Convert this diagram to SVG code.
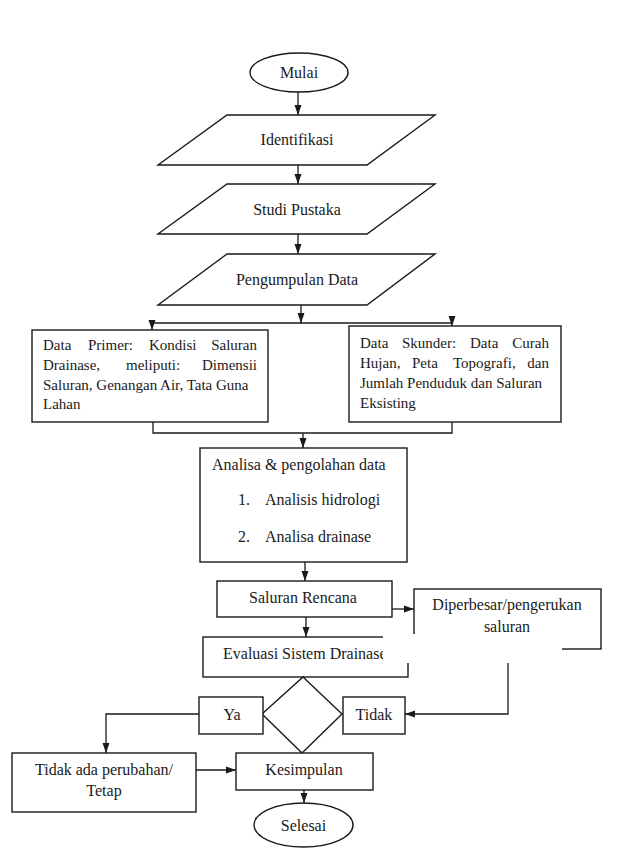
<svg xmlns="http://www.w3.org/2000/svg" width="620" height="855" viewBox="0 0 620 855">
<style>
.s{fill:none;stroke:#1a1a1a;stroke-width:1.4}
.b{fill:#fff;stroke:#1a1a1a;stroke-width:1.4}
.c{stroke:#1a1a1a;stroke-width:1.3;fill:none}
text{font-family:"Liberation Serif","Times New Roman",serif;font-size:16px;fill:#1a1a1a}
.m{text-anchor:middle}
.e{text-anchor:end}
.t{font-size:15px}
</style>
<defs>
<marker id="a" markerUnits="userSpaceOnUse" markerWidth="10" markerHeight="10" viewBox="0 0 10 10" refX="10" refY="5" orient="auto">
<path d="M0,1.5 L10,5 L0,8.5 Z" fill="#1a1a1a"/>
</marker>
</defs>
<rect width="620" height="855" fill="#fff"/>
<g id="connectors">
<line class="c" x1="298" y1="92" x2="298" y2="115" marker-end="url(#a)"/>
<line class="c" x1="298" y1="165" x2="298" y2="184" marker-end="url(#a)"/>
<line class="c" x1="298" y1="234" x2="298" y2="254" marker-end="url(#a)"/>
<line class="c" x1="301" y1="305" x2="301" y2="323" marker-end="url(#a)"/>
<line class="c" x1="152" y1="323" x2="452" y2="323"/>
<line class="c" x1="152" y1="323" x2="152" y2="330" marker-end="url(#a)"/>
<line class="c" x1="452" y1="323" x2="452" y2="326" marker-end="url(#a)"/>
<polyline class="c" points="153,422 153,433 452,433 452,422"/>
<line class="c" x1="303" y1="433" x2="303" y2="448" marker-end="url(#a)"/>
<line class="c" x1="305" y1="562" x2="305" y2="581" marker-end="url(#a)"/>
<line class="c" x1="392" y1="609" x2="414" y2="609" marker-end="url(#a)"/>
<line class="c" x1="306" y1="617" x2="306" y2="637" marker-end="url(#a)"/>
<polyline class="c" points="508,663 508,714 405,714" marker-end="url(#a)"/>
<polyline class="c" points="199,714 106,714 106,753" marker-end="url(#a)"/>
<line class="c" x1="196" y1="770" x2="236" y2="770" marker-end="url(#a)"/>
<line class="c" x1="304" y1="790" x2="304" y2="803" marker-end="url(#a)"/>
</g>
<g id="mulai">
<ellipse class="b" cx="299" cy="72.5" rx="49" ry="19.5"/>
<text class="m" x="299" y="78">Mulai</text>
</g>
<g id="identifikasi">
<polygon class="b" points="227,115 435,115 367,165 158,165"/>
<text class="m" x="297" y="145">Identifikasi</text>
</g>
<g id="studi-pustaka">
<polygon class="b" points="227,184 435,184 367,234 158,234"/>
<text class="m" x="297" y="215">Studi Pustaka</text>
</g>
<g id="pengumpulan-data">
<polygon class="b" points="227,254 435,254 367,305 158,305"/>
<text class="m" x="297" y="285">Pengumpulan Data</text>
</g>
<g id="data-primer">
<rect class="b" x="32" y="330" width="236" height="92"/>
<text class="t" x="43" y="350">Data</text>
<text class="t" x="88" y="350">Primer:</text>
<text class="t" x="149" y="350">Kondisi</text>
<text class="t e" x="257" y="350">Saluran</text>
<text class="t" x="43" y="370">Drainase,</text>
<text class="t" x="126" y="370">meliputi:</text>
<text class="t e" x="257" y="370">Dimensii</text>
<text class="t" x="43" y="390">Saluran, Genangan Air, Tata Guna</text>
<text class="t" x="43" y="409">Lahan</text>
</g>
<g id="data-skunder">
<rect class="b" x="349" y="326" width="212" height="96"/>
<text class="t" x="360" y="348">Data</text>
<text class="t" x="402" y="348">Skunder:</text>
<text class="t" x="470" y="348">Data</text>
<text class="t e" x="549" y="348">Curah</text>
<text class="t" x="360" y="368">Hujan,</text>
<text class="t" x="412" y="368">Peta</text>
<text class="t" x="453" y="368">Topografi,</text>
<text class="t e" x="549" y="368">dan</text>
<text class="t" x="360" y="388">Jumlah Penduduk dan Saluran</text>
<text class="t" x="360" y="408">Eksisting</text>
</g>
<g id="analisa">
<rect class="b" x="200" y="448" width="207" height="114"/>
<text x="212" y="470">Analisa &amp; pengolahan data</text>
<text x="238" y="505">1.</text>
<text x="265" y="505">Analisis hidrologi</text>
<text x="238" y="542">2.</text>
<text x="265" y="542">Analisa drainase</text>
</g>
<g id="saluran-rencana">
<rect class="b" x="217" y="581" width="175" height="36"/>
<text class="m" x="303" y="603">Saluran Rencana</text>
</g>
<g id="diperbesar">
<rect class="b" x="414" y="589" width="187" height="60"/>
<text class="m" x="507" y="610">Diperbesar/pengerukan</text>
<text class="m" x="507" y="632">saluran</text>
</g>
<g id="evaluasi">
<rect class="b" x="203" y="637" width="205" height="40"/>
<text x="223" y="659">Evaluasi Sistem Drainase</text>
</g>
<rect x="383" y="634" width="179" height="29" fill="#fff"/>
<g id="keputusan">
<polygon class="b" points="303,677 342,714 302,753 262,714"/>
</g>
<g id="ya">
<rect class="b" x="199" y="697" width="64" height="37"/>
<text class="m" x="232" y="720">Ya</text>
</g>
<g id="tidak">
<rect class="b" x="343" y="697" width="62" height="37"/>
<text class="m" x="374" y="720">Tidak</text>
</g>
<g id="tidak-ada-perubahan">
<rect class="b" x="12" y="753" width="184" height="59"/>
<text class="m" x="104" y="775">Tidak ada perubahan/</text>
<text class="m" x="104" y="796">Tetap</text>
</g>
<g id="kesimpulan">
<rect class="b" x="236" y="753" width="137" height="37"/>
<text class="m" x="304" y="775">Kesimpulan</text>
</g>
<g id="selesai">
<ellipse class="b" cx="303.5" cy="825" rx="49.5" ry="22"/>
<text class="m" x="303.5" y="831">Selesai</text>
</g>
</svg>
